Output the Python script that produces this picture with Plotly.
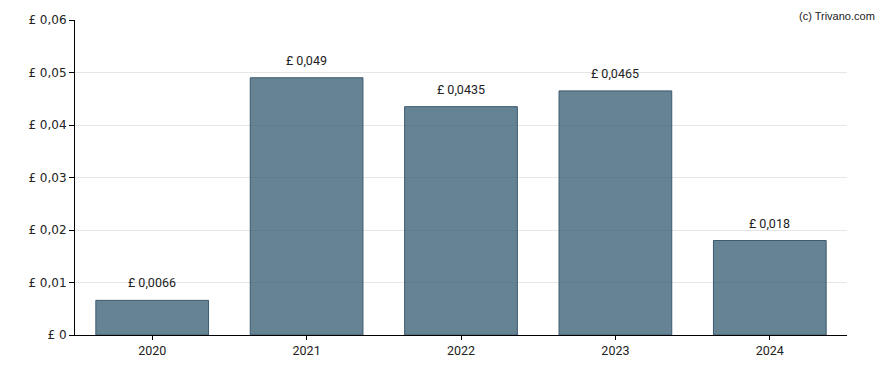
import plotly.graph_objects as go

years = ["2020", "2021", "2022", "2023", "2024"]
values = [0.0066, 0.049, 0.0435, 0.0465, 0.018]
labels = ["£ 0,0066", "£ 0,049", "£ 0,0435", "£ 0,0465", "£ 0,018"]
ytick_vals = [0, 0.01, 0.02, 0.03, 0.04, 0.05, 0.06]
ytick_text = ["£ 0", "£ 0,01", "£ 0,02", "£ 0,03", "£ 0,04", "£ 0,05", "£ 0,06"]

fig = go.Figure(go.Bar(
    x=years, y=values,
    marker=dict(color="rgba(51,90,112,0.75)", line=dict(color="#3d5a70", width=1)),
    width=0.73,
))

annots = [dict(x=i, y=v, text=lb, xref="x", yref="y", yanchor="bottom",
               yshift=8, showarrow=False,
               font=dict(family="Roboto", size=12.5, color="#222222"))
          for i, (v, lb) in enumerate(zip(values, labels))]
annots.append(dict(text="(c) Trivano.com", xref="paper", yref="paper",
                   x=1.0, y=1.0, xshift=30, yshift=12, xanchor="right", yanchor="top",
                   showarrow=False,
                   font=dict(family="Liberation Sans", size=11, color="#222222")))

fig.update_layout(
    width=880, height=362,
    margin=dict(l=67, r=41, t=12, b=35, autoexpand=False),
    plot_bgcolor="white", paper_bgcolor="white",
    font=dict(family="Roboto", size=12, color="#222222"),
    showlegend=False,
    xaxis=dict(type="category", range=[-0.5, len(years) - 0.5], automargin=False,
               showline=True, linecolor="#000000", linewidth=1,
               ticks="outside", ticklen=4, tickcolor="#000000", showgrid=False,
               tickfont=dict(family="Roboto", size=12.5, color="#222222")),
    yaxis=dict(range=[0, 0.06], tickvals=ytick_vals, ticktext=ytick_text, automargin=False,
               showline=True, linecolor="#000000", linewidth=1, ticks="outside",
               ticklen=5, tickcolor="#000000", showgrid=True, gridcolor="#e6e6e6",
               zeroline=False,
               tickfont=dict(family="DejaVu Sans", size=12, color="#222222")),
    annotations=annots,
)

fig.write_html("out.html")
